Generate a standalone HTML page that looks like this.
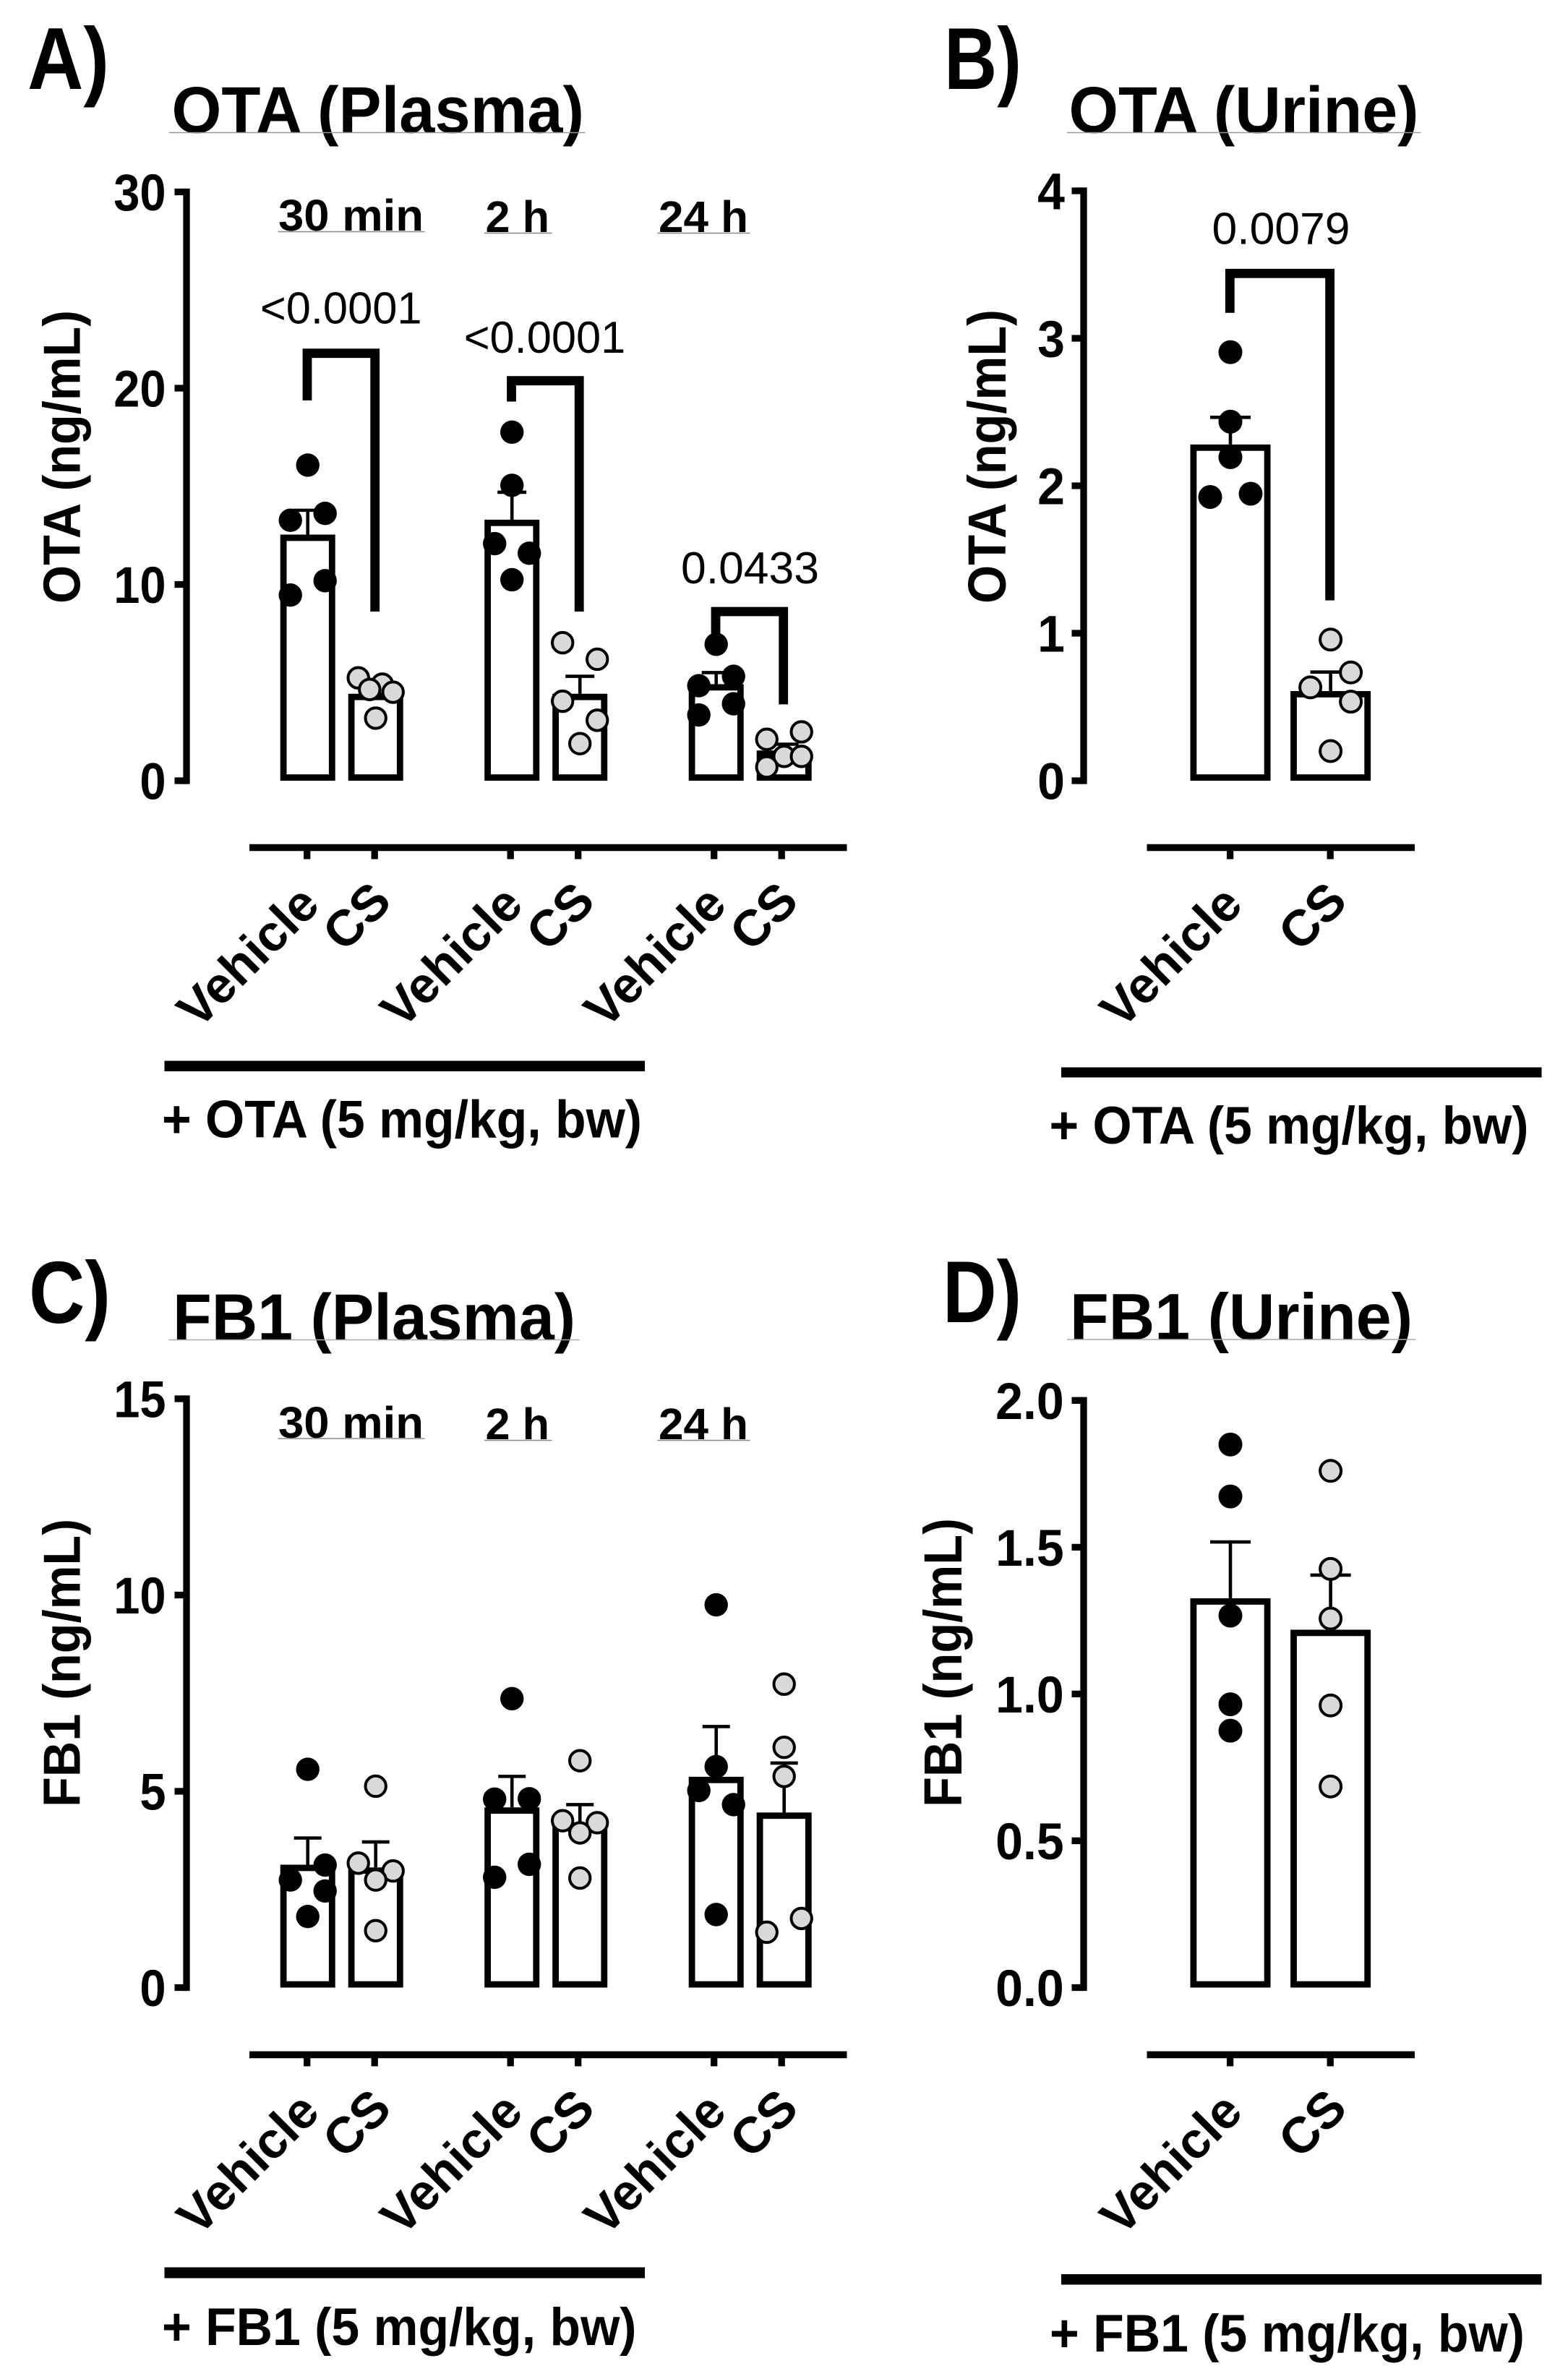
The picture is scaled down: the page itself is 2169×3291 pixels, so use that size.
<!DOCTYPE html>
<html lang="en">
<head>
<meta charset="utf-8">
<title>OTA and FB1 plasma and urine levels</title>
<style>
  html, body { margin: 0; padding: 0; background: #fff; }
  svg { display: block; }
  text { font-family: "Liberation Sans", Arial, sans-serif; fill: #000; }
  .b { font-weight: 700; }
</style>
</head>
<body>
<svg id="fig" xmlns="http://www.w3.org/2000/svg" width="2169" height="3291" viewBox="0 0 2169 3291">
  <rect width="2169" height="3291" fill="#fff"/>

  <!-- Panel letters -->
  <text class="b" x="38" y="123" font-size="122" textLength="113" lengthAdjust="spacingAndGlyphs">A)</text>
  <text class="b" x="1306" y="123" font-size="122" textLength="107" lengthAdjust="spacingAndGlyphs">B)</text>
  <text class="b" x="40" y="1830" font-size="122" textLength="113" lengthAdjust="spacingAndGlyphs">C)</text>
  <text class="b" x="1304" y="1829" font-size="122" textLength="109" lengthAdjust="spacingAndGlyphs">D)</text>

  <!-- Titles -->
  <text class="b" x="237.5" y="183.5" font-size="91" textLength="570.5" lengthAdjust="spacingAndGlyphs">OTA (Plasma)</text>
  <line x1="233.5" x2="809.5" y1="183.5" y2="183.5" stroke="#999" stroke-width="1.5"/>
  <text class="b" x="1478.5" y="183.5" font-size="91" textLength="484" lengthAdjust="spacingAndGlyphs">OTA (Urine)</text>
  <line x1="1476" x2="1965.5" y1="183.5" y2="183.5" stroke="#999" stroke-width="1.5"/>
  <text class="b" x="239" y="1853.5" font-size="91" textLength="557" lengthAdjust="spacingAndGlyphs">FB1 (Plasma)</text>
  <line x1="233.5" x2="801.5" y1="1853.5" y2="1853.5" stroke="#aaa" stroke-width="1.5"/>
  <text class="b" x="1480" y="1853" font-size="91" textLength="474" lengthAdjust="spacingAndGlyphs">FB1 (Urine)</text>
  <line x1="1476" x2="1958" y1="1853" y2="1853" stroke="#aaa" stroke-width="1.5"/>

  <!-- Y axis titles -->
  <text class="b" transform="translate(110.5,835) rotate(-90)" font-size="72" textLength="406" lengthAdjust="spacingAndGlyphs">OTA (ng/mL)</text>
  <text class="b" transform="translate(1391,835) rotate(-90)" font-size="74" textLength="407" lengthAdjust="spacingAndGlyphs">OTA (ng/mL)</text>
  <text class="b" transform="translate(110.5,2500) rotate(-90)" font-size="72" textLength="399" lengthAdjust="spacingAndGlyphs">FB1 (ng/mL)</text>
  <text class="b" transform="translate(1330,2500) rotate(-90)" font-size="74" textLength="400" lengthAdjust="spacingAndGlyphs">FB1 (ng/mL)</text>

  <!-- Time-point labels, panel A -->
  <text class="b" x="385" y="319" font-size="61" textLength="201" lengthAdjust="spacingAndGlyphs">30 min</text>
  <line x1="384.5" x2="587.5" y1="320.5" y2="320.5" stroke="#888" stroke-width="1.5"/>
  <text class="b" x="671.5" y="321" font-size="61" textLength="88.5" lengthAdjust="spacingAndGlyphs">2 h</text>
  <line x1="670" x2="763.5" y1="322.5" y2="322.5" stroke="#888" stroke-width="1.5"/>
  <text class="b" x="911" y="321" font-size="61" textLength="124" lengthAdjust="spacingAndGlyphs">24 h</text>
  <line x1="909.5" x2="1037.5" y1="322.5" y2="322.5" stroke="#888" stroke-width="1.5"/>

  <!-- Time-point labels, panel C -->
  <text class="b" x="385" y="1989" font-size="61" textLength="201" lengthAdjust="spacingAndGlyphs">30 min</text>
  <line x1="384.5" x2="587.5" y1="1990" y2="1990" stroke="#888" stroke-width="1.5"/>
  <text class="b" x="671.5" y="1991" font-size="61" textLength="88.5" lengthAdjust="spacingAndGlyphs">2 h</text>
  <line x1="670" x2="763.5" y1="1992.5" y2="1992.5" stroke="#888" stroke-width="1.5"/>
  <text class="b" x="911" y="1991" font-size="61" textLength="124" lengthAdjust="spacingAndGlyphs">24 h</text>
  <line x1="909.5" x2="1037.5" y1="1992.5" y2="1992.5" stroke="#888" stroke-width="1.5"/>

  <!-- Treatment bars and labels -->
  <rect x="227.5" y="1467.5" width="664.5" height="14.5" fill="#000"/>
  <text class="b" x="224" y="1573.5" font-size="73" textLength="664" lengthAdjust="spacingAndGlyphs">+ OTA (5 mg/kg, bw)</text>
  <rect x="1468" y="1476.5" width="664.5" height="14" fill="#000"/>
  <text class="b" x="1451.5" y="1582" font-size="73" textLength="663" lengthAdjust="spacingAndGlyphs">+ OTA (5 mg/kg, bw)</text>
  <rect x="227.5" y="3136.5" width="664.5" height="15" fill="#000"/>
  <text class="b" x="224" y="3244" font-size="73" textLength="656.5" lengthAdjust="spacingAndGlyphs">+ FB1 (5 mg/kg, bw)</text>
  <rect x="1468" y="3146" width="664.5" height="14.5" fill="#000"/>
  <text class="b" x="1452" y="3253" font-size="73" textLength="657" lengthAdjust="spacingAndGlyphs">+ FB1 (5 mg/kg, bw)</text>
</svg>

<script>
// ---- Panel A: OTA (Plasma) ----
const aTicks = [0, 10, 20, 30];
const aTickLabels = ['0', '10', '20', '30'];
const aCategories = ['Vehicle', 'CS'];
const aVehicleMeans = [12.54, 13.3, 4.92];
const aCsMeans = [4.43, 4.43, 1.54];
const aVehicleUpper = [13.78, 14.7, 5.51];
const aCsUpper = [4.9, 5.32, 1.86];
const aVehiclePoints = [
  [16.08, 13.27, 13.62, 10.19, 9.46],
  [17.76, 15.05, 12.08, 11.59, 10.24],
  [6.95, 5.32, 4.84, 3.92, 3.35]
];
const aCsPoints = [
  [5.24, 4.92, 4.65, 4.51, 3.19],
  [7.03, 6.19, 4.05, 3.08, 1.89],
  [2.49, 2.11, 1.24, 1.24, 0.70]
];
const aVehicleSwarm = [[0, -1, 1, 1, -1], [0, 0, -1, 1, 0], [0, 1, -1, 1, -1]];
const aCsSwarm = [[-1, 0.38, -0.35, 1, 0], [-1, 1, -1, 1, 0], [1, -1, 0, 1, -1]];
const aPValues = ['<0.0001', '<0.0001', '0.0433'];
const aBracketTop = [21.78, 20.38, 8.62];
const aBracketLeft = [19.38, 19.32, 7.49];
const aBracketRight = [8.62, 8.62, 3.89];

// ---- Panel B: OTA (Urine) ----
const bTicks = [0, 1, 2, 3, 4];
const bTickLabels = ['0', '1', '2', '3', '4'];
const bCategories = ['Vehicle', 'CS'];
const bVehicleMeans = [2.28];
const bCsMeans = [0.608];
const bVehicleUpper = [2.464];
const bCsUpper = [0.737];
const bVehiclePoints = [[2.906, 2.435, 2.194, 1.924, 1.946]];
const bCsPoints = [[0.957, 0.734, 0.633, 0.536, 0.201]];
const bVehicleSwarm = [[0, 0, 0, -1, 1]];
const bCsSwarm = [[0, 1, -1, 1, 0]];
const bPValues = ['0.0079'];
const bBracketTop = [3.44];
const bBracketLeft = [3.173];
const bBracketRight = [1.223];

// ---- Panel C: FB1 (Plasma) ----
const cTicks = [0, 5, 10, 15];
const cTickLabels = ['0', '5', '10', '15'];
const cCategories = ['Vehicle', 'CS'];
const cVehicleMeans = [3.13, 4.59, 5.37];
const cCsMeans = [3.06, 4.14, 4.46];
const cVehicleUpper = [3.81, 5.38, 6.65];
const cCsUpper = [3.71, 4.66, 5.72];
const cVehiclePoints = [
  [5.56, 3.12, 2.74, 2.46, 1.81],
  [7.36, 4.80, 4.81, 3.14, 2.81],
  [9.75, 5.63, 5.02, 4.66, 1.86]
];
const cCsPoints = [
  [5.13, 3.17, 2.97, 2.74, 1.45],
  [5.78, 4.25, 4.20, 3.94, 2.79],
  [7.73, 6.12, 5.38, 1.41, 1.76]
];
const cVehicleSwarm = [[0, 1, -1, 1, 0], [0, -1, 1, 1, -1], [0, 0, -1, 1, 0]];
const cCsSwarm = [[0, -1, 1, 0, 0], [0, -1, 1, 0, 0], [0, 0, 0, -1, 1]];

// ---- Panel D: FB1 (Urine) ----
const dTicks = [0, 0.5, 1, 1.5, 2];
const dTickLabels = ['0.0', '0.5', '1.0', '1.5', '2.0'];
const dCategories = ['Vehicle', 'CS'];
const dVehicleMeans = [1.326];
const dCsMeans = [1.219];
const dVehicleUpper = [1.518];
const dCsUpper = [1.405];
const dVehiclePoints = [[1.85, 1.673, 1.267, 0.965, 0.875]];
const dCsPoints = [[1.76, 1.426, 1.257, 0.961, 0.685]];
const dVehicleSwarm = [[0, 0, 0, 0, 0]];
const dCsSwarm = [[0, 0, 0, 0, 0]];

const SVG_NS = 'http://www.w3.org/2000/svg';
const fig = document.getElementById('fig');

function make(tag, props, parent) {
  const el = document.createElementNS(SVG_NS, tag);
  for (const k in props) el.setAttribute(k, props[k]);
  parent.appendChild(el);
  return el;
}

function advance(str, fs) {
  let w = 0;
  for (const ch of str) w += (ch === '.' ? 0.278 : 0.556);
  return w * fs;
}

function renderPanel(p) {
  const g = make('g', {}, fig);
  
  

  const y = v => p.y0 - v * p.unit;
  const barX = (grp, s) => p.barX0 + grp * p.barGroupStep + s * p.barStep;
  const tickX = (grp, s) => p.tickX0 + grp * p.tickGroupStep + s * p.tickStep;

  // Y axis
  const yMax = p.ticks[p.ticks.length - 1];
  const yAxis = make('line', { x1: p.axisX, x2: p.axisX, y1: y(yMax) - 4.65, y2: y(0) + 4.65, stroke: '#000', 'stroke-width': 9.3 }, g);
  
  

  p.ticks.forEach((t, i) => {
    const tick = make('line', { x1: p.axisX - 16.5, x2: p.axisX, y1: y(t), y2: y(t), stroke: '#000', 'stroke-width': 9.3 }, g);
    
    
    const label = make('text', { x: p.tickLabelX, y: y(t) + 25.5, 'text-anchor': 'end', 'font-size': 71, 'font-weight': 700, textLength: advance(p.tickLabels[i], p.tickWidthSize), lengthAdjust: 'spacingAndGlyphs' }, g);
    label.textContent = p.tickLabels[i];
    
    
  });

  // X axis
  const xAxis = make('line', { x1: p.xAxisStart, x2: p.xAxisEnd, y1: p.xAxisY, y2: p.xAxisY, stroke: '#000', 'stroke-width': 9.6 }, g);
  
  

  const series = [
    { key: 'vehicle', means: p.vehicleMeans, upper: p.vehicleUpper, points: p.vehiclePoints, swarm: p.vehicleSwarm, fill: '#000', stroke: '#000' },
    { key: 'cs', means: p.csMeans, upper: p.csUpper, points: p.csPoints, swarm: p.csSwarm, fill: '#d9d9d9', stroke: '#000' }
  ];

  const dotLayer = [];
  series.forEach((s, si) => {
    s.means.forEach((m, grp) => {
      const cx = barX(grp, si);
      const sw = 8.8;

      // Bar, outer edge on the value
      const bar = make('rect', {
        x: cx - p.barWidth / 2 + sw / 2,
        y: y(m) + sw / 2,
        width: p.barWidth - sw,
        height: y(0) - y(m) - sw,
        fill: 'none', stroke: '#000', 'stroke-width': sw
      }, g);
      
      

      // Error bar
      const stem = make('line', { x1: cx, x2: cx, y1: y(m), y2: y(s.upper[grp]), stroke: '#000', 'stroke-width': 4.6 }, g);
      
      
      const cap = make('line', { x1: cx - p.capWidth / 2, x2: cx + p.capWidth / 2, y1: y(s.upper[grp]), y2: y(s.upper[grp]), stroke: '#000', 'stroke-width': 4.6 }, g);
      
      

      s.points[grp].forEach((v, pi) => {
        dotLayer.push({ cx: cx + s.swarm[grp][pi] * p.swarmStep, v: v, series: s });
      });
    });
  });

  // Data points on top of the bars
  dotLayer.forEach(d => {
    const isCs = d.series.key === 'cs';
    const dot = make('circle', {
      cx: d.cx, cy: y(d.v),
      r: isCs ? p.dotR - 2 : p.dotR,
      fill: d.series.fill,
      stroke: isCs ? '#000' : 'none',
      'stroke-width': isCs ? 4 : 0
    }, g);
    
    
  });

  // X ticks and rotated category labels
  p.vehicleMeans.forEach((_, grp) => {
    p.categories.forEach((cat, si) => {
      const tx = tickX(grp, si);
      const tick = make('line', { x1: tx, x2: tx, y1: p.xAxisY, y2: p.xAxisY + 16, stroke: '#000', 'stroke-width': 9.3 }, g);
      
      
      const dx = si === 0 ? -65 : -8;
      const dy = si === 0 ? 167.5 : 112;
      const label = make('text', {
        transform: 'translate(' + (tx + dx) + ',' + (p.xAxisY + dy) + ') rotate(-45)',
        'text-anchor': 'middle', 'font-size': 70, 'font-weight': 700
      }, g);
      label.textContent = cat;
      
      
    });
  });

  // Significance brackets
  (p.pValues || []).forEach((txt, grp) => {
    const lx = barX(grp, 0) - 0.7;
    const rx = barX(grp, 1) - 1;
    const br = make('path', {
      d: 'M' + lx + ' ' + y(p.bracketLeft[grp]) + ' V' + y(p.bracketTop[grp]) + ' H' + rx + ' V' + y(p.bracketRight[grp]),
      fill: 'none', stroke: '#000', 'stroke-width': 12.8, 'stroke-linejoin': 'miter'
    }, g);
    
    
    const lab = make('text', {
      x: p.pLabelX[grp], y: p.pLabelY[grp], 'text-anchor': 'middle', 'font-size': 62,
      textLength: p.pLabelW[grp], lengthAdjust: 'spacingAndGlyphs'
    }, g);
    lab.textContent = txt;
    
    
  });
}

renderPanel({
  id: 'panel-a', y0: 1080, unit: 27.15, axisX: 258, tickLabelX: 229.5, tickWidthSize: 65,
  ticks: aTicks, tickLabels: aTickLabels, categories: aCategories,
  barX0: 425.7, barGroupStep: 282.5, barStep: 94, barWidth: 76, capWidth: 40, dotR: 16.2, swarmStep: 24,
  tickX0: 424.7, tickGroupStep: 281.5, tickStep: 93.5,
  xAxisStart: 345, xAxisEnd: 1171.5, xAxisY: 1172.5,
  vehicleMeans: aVehicleMeans, csMeans: aCsMeans, vehicleUpper: aVehicleUpper, csUpper: aCsUpper,
  vehiclePoints: aVehiclePoints, csPoints: aCsPoints, vehicleSwarm: aVehicleSwarm, csSwarm: aCsSwarm,
  pValues: aPValues, bracketTop: aBracketTop, bracketLeft: aBracketLeft, bracketRight: aBracketRight,
  pLabelX: [471.7, 753.5, 1037.5], pLabelY: [447.5, 488, 807], pLabelW: [223.6, 223.6, 191]
});

renderPanel({
  id: 'panel-b', y0: 1080, unit: 204, axisX: 1499, tickLabelX: 1472.9, tickWidthSize: 68,
  ticks: bTicks, tickLabels: bTickLabels, categories: bCategories,
  barX0: 1702, barGroupStep: 0, barStep: 138.6, barWidth: 111, capWidth: 56, dotR: 16.5, swarmStep: 28,
  tickX0: 1701.6, tickGroupStep: 0, tickStep: 138.6,
  xAxisStart: 1586.5, xAxisEnd: 1957, xAxisY: 1172.5,
  vehicleMeans: bVehicleMeans, csMeans: bCsMeans, vehicleUpper: bVehicleUpper, csUpper: bCsUpper,
  vehiclePoints: bVehiclePoints, csPoints: bCsPoints, vehicleSwarm: bVehicleSwarm, csSwarm: bCsSwarm,
  pValues: bPValues, bracketTop: bBracketTop, bracketLeft: bBracketLeft, bracketRight: bBracketRight,
  pLabelX: [1772], pLabelY: [337.5], pLabelW: [191]
});

renderPanel({
  id: 'panel-c', y0: 2749.5, unit: 54.3, axisX: 258, tickLabelX: 229.5, tickWidthSize: 65,
  ticks: cTicks, tickLabels: cTickLabels, categories: cCategories,
  barX0: 425.7, barGroupStep: 282.5, barStep: 94, barWidth: 76, capWidth: 38, dotR: 16.2, swarmStep: 24,
  tickX0: 424.7, tickGroupStep: 281.5, tickStep: 93.5,
  xAxisStart: 345, xAxisEnd: 1171.5, xAxisY: 2842.4,
  vehicleMeans: cVehicleMeans, csMeans: cCsMeans, vehicleUpper: cVehicleUpper, csUpper: cCsUpper,
  vehiclePoints: cVehiclePoints, csPoints: cCsPoints, vehicleSwarm: cVehicleSwarm, csSwarm: cCsSwarm
});

renderPanel({
  id: 'panel-d', y0: 2749.5, unit: 406.1, axisX: 1499, tickLabelX: 1471.7, tickWidthSize: 68,
  ticks: dTicks, tickLabels: dTickLabels, categories: dCategories,
  barX0: 1702, barGroupStep: 0, barStep: 138.6, barWidth: 111, capWidth: 56, dotR: 16.5, swarmStep: 28,
  tickX0: 1701.6, tickGroupStep: 0, tickStep: 138.6,
  xAxisStart: 1586.5, xAxisEnd: 1957, xAxisY: 2842.4,
  vehicleMeans: dVehicleMeans, csMeans: dCsMeans, vehicleUpper: dVehicleUpper, csUpper: dCsUpper,
  vehiclePoints: dVehiclePoints, csPoints: dCsPoints, vehicleSwarm: dVehicleSwarm, csSwarm: dCsSwarm
});
</script>
</body>
</html>
